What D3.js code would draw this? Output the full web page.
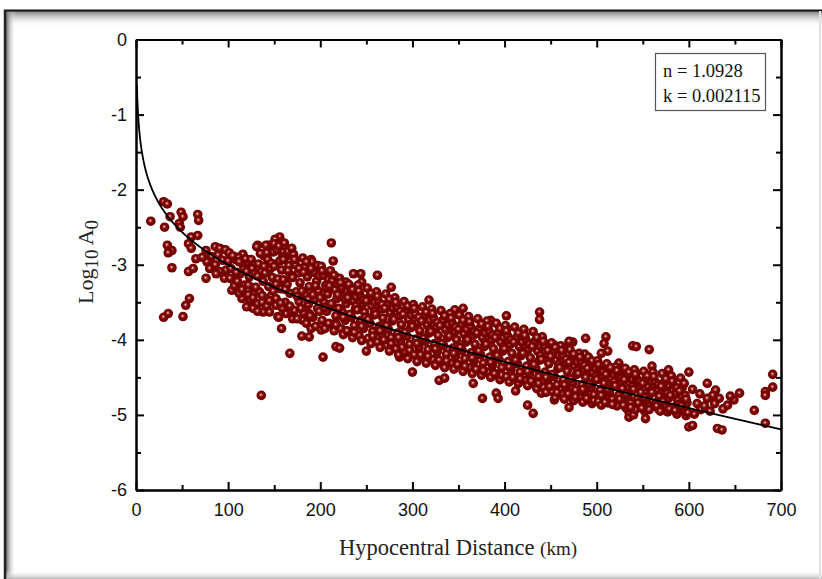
<!DOCTYPE html>
<html>
<head>
<meta charset="utf-8">
<script src="https://cdn.jsdelivr.net/npm/d3@7"></script>
<style>
  html, body { margin: 0; padding: 0; background: #fff; }
</style>
</head>
<body>
<svg id="chart"></svg>
<script>
// attenuation fit parameters shown in the box
const fitN = 1.0928
const fitK = 0.002115

const xTicks = [0, 100, 200, 300, 400, 500, 600, 700]
const xMinor = [50, 150, 250, 350, 450, 550, 650]
const yTicks = [0, -1, -2, -3, -4, -5, -6]
const yMinor = [-0.5, -1.5, -2.5, -3.5, -4.5, -5.5]

const obs0to100 = [
  [16,-2.42],[30,-2.16],[34,-2.19],[37,-2.36],[31,-2.50],[49,-2.30],[51,-2.36],[47,-2.45],[48,-2.50],
  [67,-2.33],[68,-2.41],[67,-2.61],[60,-2.63],[57,-2.72],[60,-2.78],[34,-2.74],[39,-2.81],[35,-2.84],
  [39,-3.04],[57,-3.09],[62,-3.05],[65,-2.92],[76,-2.81],[76,-3.18],[58,-3.45],[54,-3.54],[35,-3.65],
  [30,-3.70],[51,-3.69],[86,-2.76],[91,-2.78],[97,-2.80],[89,-2.87],[82,-2.89],[94,-2.94],[77,-2.96],
  [86,-3.00],[91,-3.09],[96,-3.18],[98,-3.07],[87,-3.12],[80,-3.05],[72,-2.90]
]

const obs100to200 = [
  [116,-2.86],[132,-2.74],[143,-2.74],[149,-2.72],[156,-2.63],[158,-2.70],[152,-2.81],[160,-2.83],[163,-2.89],
  [190,-2.93],[125,-3.43],[120,-3.56],[132,-3.52],[138,-3.63],[152,-3.54],[154,-3.69],[163,-3.65],[170,-3.72],
  [158,-3.85],[167,-4.18],[181,-3.74],[188,-3.65],[190,-3.85],[188,-3.96],[136,-4.74],[180,-3.95],
  [101,-2.84],[103,-3.05],[106,-3.21],[108,-2.93],[104,-3.34],
  [111,-2.90],[113,-3.12],[116,-2.99],[118,-3.27],[115,-3.45],[112,-3.38],
  [121,-2.97],[123,-3.16],[126,-3.05],[128,-3.31],[124,-3.47],[127,-3.58],[122,-3.40],
  [131,-2.76],[133,-2.99],[136,-3.09],[138,-3.22],[134,-3.36],[137,-3.50],[132,-3.62],[139,-2.88],
  [141,-2.74],[143,-2.93],[146,-3.05],[148,-3.17],[144,-3.29],[147,-3.41],[142,-3.55],[149,-2.83],[145,-3.63],
  [151,-2.66],[153,-2.80],[156,-2.95],[158,-3.07],[154,-3.19],[157,-3.32],[152,-3.45],[159,-3.58],[155,-3.70],[150,-2.72],
  [161,-2.71],[163,-2.88],[166,-3.01],[168,-3.14],[164,-3.26],[167,-3.38],[162,-3.50],[169,-3.63],[165,-2.82],[160,-3.20],
  [171,-2.86],[173,-3.00],[176,-3.11],[178,-3.24],[174,-3.36],[177,-3.49],[172,-3.61],[179,-3.05],[175,-3.72],
  [181,-2.91],[183,-3.03],[186,-3.16],[188,-3.29],[184,-3.40],[187,-3.53],[182,-3.64],[189,-3.09],[185,-3.78],
  [191,-2.96],[193,-3.10],[196,-3.22],[198,-3.35],[194,-3.46],[197,-3.58],[192,-3.70],[199,-3.15],[195,-3.82],
  [100,-2.95],[102,-3.18],[105,-2.88],[107,-3.28],[109,-3.10],[110,-3.22],[112,-2.96],[115,-3.33],[117,-3.06],[119,-2.92],
  [120,-3.09],[122,-3.27],[125,-2.93],[127,-3.44],[129,-3.12],[130,-3.30],[132,-3.15],[135,-2.85],[137,-3.41],[139,-3.02],
  [140,-3.11],[142,-2.84],[145,-3.48],[147,-2.98],[149,-3.35],[150,-3.02],[152,-3.26],[155,-2.75],[157,-3.51],[159,-2.90],
  [160,-2.93],[162,-3.33],[165,-3.08],[167,-3.55],[169,-2.78],[170,-3.17],[172,-2.93],[175,-3.42],[177,-3.05],[179,-3.58],
  [180,-3.35],[182,-3.10],[185,-2.96],[187,-3.46],[189,-3.68],[190,-3.05],[192,-3.40],[195,-3.28],[197,-3.01],[199,-3.62]
]

const obs200to300 = [
  [212,-2.71],[201,-3.87],[203,-4.23],[217,-4.09],[217,-3.78],[225,-3.87],[244,-3.12],[245,-3.23],[228,-3.23],
  [228,-3.36],[286,-4.23],[221,-4.11],[214,-2.95],[236,-3.12],[277,-3.30],[262,-3.14],[250,-4.15],
  [201,-3.02],[203,-3.14],[206,-3.27],[208,-3.39],[204,-3.50],[207,-3.62],[202,-3.74],[209,-3.20],[205,-3.85],
  [211,-3.08],[213,-3.21],[216,-3.33],[218,-3.45],[214,-3.56],[217,-3.68],[212,-3.79],[219,-3.26],[215,-3.88],
  [221,-3.18],[223,-3.30],[226,-3.41],[228,-3.52],[224,-3.63],[227,-3.74],[222,-3.85],[229,-3.36],[225,-3.93],
  [231,-3.26],[233,-3.37],[236,-3.48],[238,-3.59],[234,-3.70],[237,-3.81],[232,-3.90],[239,-3.43],[235,-3.97],
  [241,-3.27],[243,-3.40],[246,-3.52],[248,-3.63],[244,-3.74],[247,-3.85],[242,-3.94],[249,-3.46],[245,-4.01],
  [251,-3.31],[253,-3.44],[256,-3.55],[258,-3.67],[254,-3.78],[257,-3.89],[252,-3.98],[259,-3.50],[255,-4.05],
  [261,-3.36],[263,-3.48],[266,-3.59],[268,-3.71],[264,-3.82],[267,-3.93],[262,-4.03],[269,-3.54],[265,-4.10],
  [271,-3.39],[273,-3.52],[276,-3.64],[278,-3.75],[274,-3.86],[277,-3.97],[272,-4.07],[279,-3.58],[275,-4.15],
  [281,-3.44],[283,-3.56],[286,-3.68],[288,-3.80],[284,-3.91],[287,-4.02],[282,-4.12],[289,-3.62],[285,-4.20],
  [291,-3.49],[293,-3.61],[296,-3.73],[298,-3.84],[294,-3.95],[297,-4.06],[292,-4.16],[299,-3.67],[295,-4.25],
  [200,-3.44],[202,-3.08],[205,-3.57],[207,-3.31],[209,-3.78],[210,-3.28],[212,-3.52],[215,-3.14],[217,-3.80],[219,-3.40],
  [220,-3.58],[222,-3.24],[225,-3.70],[227,-3.46],[229,-3.88],[230,-3.44],[232,-3.66],[235,-3.33],[237,-3.90],[239,-3.55],
  [240,-3.60],[242,-3.35],[245,-3.82],[247,-3.47],[249,-3.70],[250,-3.48],[252,-3.73],[255,-3.38],[257,-3.95],[259,-3.62],
  [260,-3.66],[262,-3.42],[265,-3.88],[267,-3.53],[269,-4.00],[270,-3.58],[272,-3.81],[275,-3.46],[277,-4.05],[279,-3.70],
  [280,-3.73],[282,-3.50],[285,-3.97],[287,-3.62],[289,-4.10],[290,-3.66],[292,-3.90],[295,-3.55],[297,-4.14],[299,-3.79]
]

const obs300to400 = [
  [346,-3.60],[385,-3.74],[376,-4.78],[329,-4.54],[335,-4.51],[318,-3.47],[355,-3.58],[366,-4.58],[300,-4.43],
  [301,-3.53],[303,-3.65],[306,-3.77],[308,-3.88],[304,-3.99],[307,-4.10],[302,-4.20],[309,-3.71],[305,-4.29],
  [311,-3.56],[313,-3.68],[316,-3.80],[318,-3.91],[314,-4.02],[317,-4.13],[312,-4.23],[319,-3.74],[315,-4.31],
  [321,-3.59],[323,-3.71],[326,-3.83],[328,-3.94],[324,-4.05],[327,-4.16],[322,-4.26],[329,-3.77],[325,-4.34],
  [331,-3.61],[333,-3.74],[336,-3.86],[338,-3.97],[334,-4.08],[337,-4.19],[332,-4.29],[339,-3.80],[335,-4.37],
  [341,-3.65],[343,-3.77],[346,-3.89],[348,-4.00],[344,-4.11],[347,-4.22],[342,-4.31],[349,-3.83],[345,-4.39],
  [351,-3.67],[353,-3.80],[356,-3.92],[358,-4.03],[354,-4.14],[357,-4.25],[352,-4.34],[359,-3.86],[355,-4.42],
  [361,-3.69],[363,-3.82],[366,-3.94],[368,-4.06],[364,-4.17],[367,-4.28],[362,-4.37],[369,-3.88],[365,-4.45],
  [371,-3.72],[373,-3.85],[376,-3.97],[378,-4.09],[374,-4.20],[377,-4.31],[372,-4.40],[379,-3.91],[375,-4.47],
  [381,-3.75],[383,-3.88],[386,-4.00],[388,-4.12],[384,-4.23],[387,-4.34],[382,-4.43],[389,-3.94],[385,-4.50],
  [391,-3.78],[393,-3.91],[396,-4.03],[398,-4.15],[394,-4.26],[397,-4.37],[392,-4.46],[399,-3.97],[395,-4.53],
  [300,-3.82],[302,-3.58],[305,-4.05],[307,-3.70],[309,-4.20],[310,-3.75],[312,-3.98],[315,-3.63],[317,-4.22],[319,-3.86],
  [320,-3.89],[322,-3.65],[325,-4.12],[327,-3.77],[329,-4.27],[330,-3.81],[332,-4.05],[335,-3.68],[337,-4.28],[339,-3.92],
  [340,-3.95],[342,-3.71],[345,-4.18],[347,-3.83],[349,-4.33],[350,-3.86],[352,-4.10],[355,-3.74],[357,-4.35],[359,-3.98],
  [360,-4.00],[362,-3.76],[365,-4.24],[367,-3.89],[369,-4.39],[370,-3.91],[372,-4.15],[375,-3.79],[377,-4.41],[379,-4.03],
  [380,-4.06],[382,-3.82],[385,-4.30],[387,-3.94],[389,-4.45],[390,-3.97],[392,-4.21],[395,-3.85],[397,-4.47],[399,-4.09]
]

const obs400to500 = [
  [438,-3.63],[438,-3.73],[416,-3.94],[391,-4.71],[393,-4.78],[425,-4.87],[431,-4.98],[440,-4.71],[454,-4.80],
  [488,-3.98],[474,-4.03],[454,-4.07],[465,-4.10],[487,-4.19],[402,-3.68],[412,-4.68],[470,-4.02],[470,-4.90],
  [401,-3.81],[403,-3.94],[406,-4.06],[408,-4.18],[404,-4.29],[407,-4.40],[402,-4.49],[409,-4.00],[405,-4.56],
  [411,-3.83],[413,-3.97],[416,-4.09],[418,-4.21],[414,-4.32],[417,-4.43],[412,-4.51],[419,-4.03],[415,-4.58],
  [421,-3.86],[423,-3.99],[426,-4.12],[428,-4.24],[424,-4.35],[427,-4.46],[422,-4.54],[429,-4.06],[425,-4.61],
  [431,-3.89],[433,-4.02],[436,-4.15],[438,-4.27],[434,-4.38],[437,-4.49],[432,-4.58],[439,-4.09],[435,-4.65],
  [441,-3.96],[443,-4.08],[446,-4.20],[448,-4.32],[444,-4.43],[447,-4.54],[442,-4.63],[449,-4.14],[445,-4.70],
  [451,-4.04],[453,-4.15],[456,-4.27],[458,-4.38],[454,-4.49],[457,-4.60],[452,-4.69],[459,-4.21],[455,-4.77],
  [461,-4.08],[463,-4.20],[466,-4.31],[468,-4.42],[464,-4.53],[467,-4.64],[462,-4.72],[469,-4.26],[465,-4.79],
  [471,-4.13],[473,-4.24],[476,-4.35],[478,-4.46],[474,-4.57],[477,-4.67],[472,-4.75],[479,-4.30],[475,-4.81],
  [481,-4.18],[483,-4.29],[486,-4.40],[488,-4.50],[484,-4.60],[487,-4.70],[482,-4.77],[489,-4.35],[485,-4.83],
  [491,-4.23],[493,-4.33],[496,-4.44],[498,-4.54],[494,-4.64],[497,-4.73],[492,-4.80],[499,-4.39],[495,-4.85],
  [400,-4.12],[402,-3.88],[405,-4.36],[407,-4.00],[409,-4.50],[410,-4.03],[412,-4.27],[415,-3.91],[417,-4.52],[419,-4.15],
  [420,-4.18],[422,-3.94],[425,-4.42],[427,-4.06],[429,-4.55],[430,-4.09],[432,-4.33],[435,-3.97],[437,-4.58],[439,-4.21],
  [440,-4.26],[442,-4.02],[445,-4.50],[447,-4.14],[449,-4.62],[450,-4.22],[452,-4.46],[455,-4.10],[457,-4.70],[459,-4.33],
  [460,-4.37],[462,-4.14],[465,-4.60],[467,-4.26],[469,-4.72],[470,-4.30],[472,-4.52],[475,-4.19],[477,-4.76],[479,-4.41],
  [480,-4.45],[482,-4.23],[485,-4.66],[487,-4.34],[489,-4.78],[490,-4.38],[492,-4.59],[495,-4.28],[497,-4.81],[499,-4.49]
]

const obs500to700 = [
  [510,-3.96],[508,-4.05],[512,-4.15],[539,-4.08],[543,-4.09],[557,-4.13],[524,-4.31],[525,-4.43],[525,-4.49],
  [553,-5.05],[535,-5.03],[535,-4.96],[600,-4.43],[600,-5.16],[604,-5.14],[631,-5.18],[636,-5.20],
  [620,-4.58],[629,-4.67],[626,-4.74],[633,-4.78],[620,-4.78],[642,-4.87],[649,-4.80],[655,-4.71],[671,-4.94],
  [683,-4.69],[683,-4.74],[683,-5.11],[691,-4.46],[691,-4.63],[505,-4.18],[560,-4.35],[578,-4.40],[540,-5.00],
  [604,-4.66],[609,-4.85],[613,-4.93],[606,-4.99],[617,-4.88],[612,-4.72],[623,-4.95],[628,-4.85],[637,-4.92],[645,-4.75],
  [501,-4.28],[503,-4.38],[506,-4.48],[508,-4.58],[504,-4.67],[507,-4.76],[502,-4.82],[509,-4.43],[505,-4.87],
  [511,-4.32],[513,-4.42],[516,-4.52],[518,-4.61],[514,-4.70],[517,-4.79],[512,-4.84],[519,-4.47],
  [521,-4.36],[523,-4.46],[526,-4.56],[528,-4.65],[524,-4.74],[527,-4.82],[522,-4.88],[529,-4.51],
  [531,-4.38],[533,-4.48],[536,-4.58],[538,-4.67],[534,-4.76],[537,-4.84],[532,-4.91],[539,-4.53],
  [541,-4.40],[543,-4.51],[546,-4.61],[548,-4.70],[544,-4.79],[547,-4.87],[542,-4.93],
  [551,-4.42],[553,-4.53],[556,-4.63],[558,-4.72],[554,-4.81],[557,-4.89],[552,-4.95],
  [561,-4.43],[563,-4.55],[566,-4.66],[568,-4.75],[564,-4.84],[567,-4.92],
  [571,-4.45],[573,-4.57],[576,-4.68],[578,-4.78],[574,-4.87],[577,-4.96],
  [581,-4.48],[583,-4.60],[586,-4.71],[588,-4.81],[584,-4.90],[587,-4.99],
  [591,-4.51],[593,-4.63],[596,-4.74],[598,-4.84],[594,-4.93],[597,-5.01],
  [500,-4.53],[502,-4.33],[505,-4.74],[507,-4.43],[509,-4.83],[510,-4.46],[512,-4.66],[515,-4.37],[517,-4.86],[519,-4.56],
  [520,-4.61],[522,-4.41],[525,-4.79],[527,-4.51],[529,-4.87],[530,-4.53],[532,-4.72],[535,-4.43],[537,-4.90],[539,-4.62],
  [540,-4.66],[542,-4.46],[545,-4.84],[547,-4.56],[549,-4.91],[550,-4.58],[552,-4.77],[555,-4.48],[557,-4.93],[559,-4.67],
  [560,-4.70],[562,-4.49],[565,-4.88],[567,-4.60],[569,-4.95],[570,-4.62],[572,-4.82],[575,-4.52],[577,-4.71],[579,-4.92],
  [580,-4.74],[582,-4.55],[585,-4.94],[587,-4.64],[589,-4.86],[590,-4.68],[592,-4.88],[595,-4.58],[597,-4.79],[599,-4.97]
]

const width = 822
const height = 579

const svg = d3.select('#chart').attr('width', width).attr('height', height)
const defs = svg.append('defs')

// glossy marker
const ball = defs.append('radialGradient').attr('id', 'ball')
  .attr('cx', '50%').attr('cy', '50%').attr('r', '55%').attr('fx', '45%').attr('fy', '42%')
ball.append('stop').attr('offset', '0%').attr('stop-color', '#f4e4e4')
ball.append('stop').attr('offset', '22%').attr('stop-color', '#b04848')
ball.append('stop').attr('offset', '45%').attr('stop-color', '#7c0000')
ball.append('stop').attr('offset', '100%').attr('stop-color', '#6e0000')

// frame shadows
const shTop = defs.append('linearGradient').attr('id', 'shTop').attr('x1', 0).attr('y1', 0).attr('x2', 0).attr('y2', 1)
shTop.append('stop').attr('offset', '0%').attr('stop-color', '#7a7a7a')
shTop.append('stop').attr('offset', '100%').attr('stop-color', '#fff').attr('stop-opacity', 0)
const shLeft = defs.append('linearGradient').attr('id', 'shLeft').attr('x1', 0).attr('y1', 0).attr('x2', 1).attr('y2', 0)
shLeft.append('stop').attr('offset', '0%').attr('stop-color', '#6a6a6a')
shLeft.append('stop').attr('offset', '100%').attr('stop-color', '#fff').attr('stop-opacity', 0)
const shBottom = defs.append('linearGradient').attr('id', 'shBottom').attr('x1', 0).attr('y1', 0).attr('x2', 0).attr('y2', 1)
shBottom.append('stop').attr('offset', '0%').attr('stop-color', '#fff').attr('stop-opacity', 0)
shBottom.append('stop').attr('offset', '100%').attr('stop-color', '#b8b8b8')

svg.append('rect').attr('width', width).attr('height', height).attr('fill', '#fff')
svg.append('rect').attr('x', 5).attr('y', 11).attr('width', width - 5).attr('height', 16).attr('fill', 'url(#shTop)')
svg.append('rect').attr('x', 6).attr('y', 11).attr('width', 10).attr('height', height - 11).attr('fill', 'url(#shLeft)')
svg.append('rect').attr('x', 5).attr('y', 570).attr('width', width - 5).attr('height', 9).attr('fill', 'url(#shBottom)')
svg.append('line').attr('x1', 4).attr('x2', width).attr('y1', 10.5).attr('y2', 10.5).attr('stroke', '#111').attr('stroke-width', 2)
svg.append('line').attr('x1', 5).attr('x2', 5).attr('y1', 10).attr('y2', height).attr('stroke', '#222').attr('stroke-width', 2.5)
svg.append('line').attr('x1', 820).attr('x2', 820).attr('y1', 11).attr('y2', height).attr('stroke', '#e2e2e2').attr('stroke-width', 2)

// scales
const x = d3.scaleLinear().domain([0, 700]).range([136, 781])
const y = d3.scaleLinear().domain([0, -6]).range([39.5, 490])

// data points
const allObs = [].concat(obs0to100, obs100to200, obs200to300, obs300to400, obs400to500, obs500to700)
svg.append('g')
  .selectAll('circle')
  .data(allObs)
  .join('circle')
  .attr('cx', (d) => x(d[0]))
  .attr('cy', (d) => y(d[1]))
  .attr('r', 4.8)
  .attr('fill', 'url(#ball)')

// fit curve: -log A0 = n log(r/100) + k (r - 100) + 3
const curve = d3.range(1, 700.5, 0.5).map((r) => [r, -(fitN * Math.log10(r / 100) + fitK * (r - 100) + 3)])
svg.append('path')
  .datum(curve)
  .attr('fill', 'none')
  .attr('stroke', '#000')
  .attr('stroke-width', 1.8)
  .attr('d', d3.line().x((d) => x(d[0])).y((d) => y(d[1])))

// axes
const tickFont = (g) => g.selectAll('text')
  .attr('font-family', '"Liberation Sans", Arial, sans-serif')
  .attr('font-size', 18)
  .attr('fill', '#111')
const lineStyle = (g) => {
  g.select('.domain').attr('stroke', '#000').attr('stroke-width', 2)
  g.selectAll('.tick line').attr('stroke', '#000').attr('stroke-width', 2)
}

const gx = svg.append('g').attr('transform', `translate(0,${y(-6)})`)
  .call(d3.axisBottom(x).tickValues(xTicks).tickSizeInner(-8).tickSizeOuter(0).tickPadding(13).tickFormat((d) => String(d)))
gx.call(tickFont).call(lineStyle)
svg.append('g').attr('transform', `translate(0,${y(-6)})`)
  .call(d3.axisBottom(x).tickValues(xMinor).tickSizeInner(-5).tickSizeOuter(0).tickFormat(''))
  .call(lineStyle)

const gy = svg.append('g').attr('transform', `translate(${x(0)},0)`)
  .call(d3.axisLeft(y).tickValues(yTicks).tickSizeInner(-8).tickSizeOuter(0).tickPadding(9).tickFormat((d) => String(d)))
gy.call(tickFont).call(lineStyle)
svg.append('g').attr('transform', `translate(${x(0)},0)`)
  .call(d3.axisLeft(y).tickValues(yMinor).tickSizeInner(-5).tickSizeOuter(0).tickFormat(''))
  .call(lineStyle)

svg.append('g').attr('transform', `translate(0,${y(0)})`)
  .call(d3.axisTop(x).tickValues(xTicks).tickSizeInner(-8).tickSizeOuter(0).tickFormat(''))
  .call(lineStyle)
svg.append('g').attr('transform', `translate(0,${y(0)})`)
  .call(d3.axisTop(x).tickValues(xMinor).tickSizeInner(-5).tickSizeOuter(0).tickFormat(''))
  .call(lineStyle)
svg.append('g').attr('transform', `translate(${x(700)},0)`)
  .call(d3.axisRight(y).tickValues(yTicks).tickSizeInner(-8).tickSizeOuter(0).tickFormat(''))
  .call(lineStyle)
svg.append('g').attr('transform', `translate(${x(700)},0)`)
  .call(d3.axisRight(y).tickValues(yMinor).tickSizeInner(-5).tickSizeOuter(0).tickFormat(''))
  .call(lineStyle)

// axis titles
const serif = '"Liberation Serif", "Times New Roman", serif'
const xt = svg.append('text')
  .attr('x', 458).attr('y', 555)
  .attr('text-anchor', 'middle')
  .attr('font-family', serif).attr('font-size', 22.5).attr('fill', '#222')
xt.append('tspan').text('Hypocentral Distance ')
xt.append('tspan').attr('font-size', 19).text('(km)')

const yt = svg.append('text')
  .attr('transform', 'translate(93,262) rotate(-90)')
  .attr('text-anchor', 'middle')
  .attr('font-family', serif).attr('font-size', 22).attr('fill', '#222')
yt.append('tspan').text('Log')
yt.append('tspan').attr('font-size', 19).attr('dy', 5).text('10')
yt.append('tspan').attr('dy', -5).text(' A')
yt.append('tspan').attr('font-size', 19).attr('dy', 5).text('0')

// parameter box
const box = svg.append('g')
box.append('rect')
  .attr('x', 655.5).attr('y', 53.5).attr('width', 110).attr('height', 57)
  .attr('fill', '#fff').attr('stroke', '#555').attr('stroke-width', 1.2)
box.append('text')
  .attr('x', 663).attr('y', 77)
  .attr('font-family', serif).attr('font-size', 18.5).attr('fill', '#111')
  .text(`n = ${fitN}`)
box.append('text')
  .attr('x', 663).attr('y', 102)
  .attr('font-family', serif).attr('font-size', 18.5).attr('fill', '#111')
  .text(`k = ${fitK}`)
</script>
</body>
</html>
